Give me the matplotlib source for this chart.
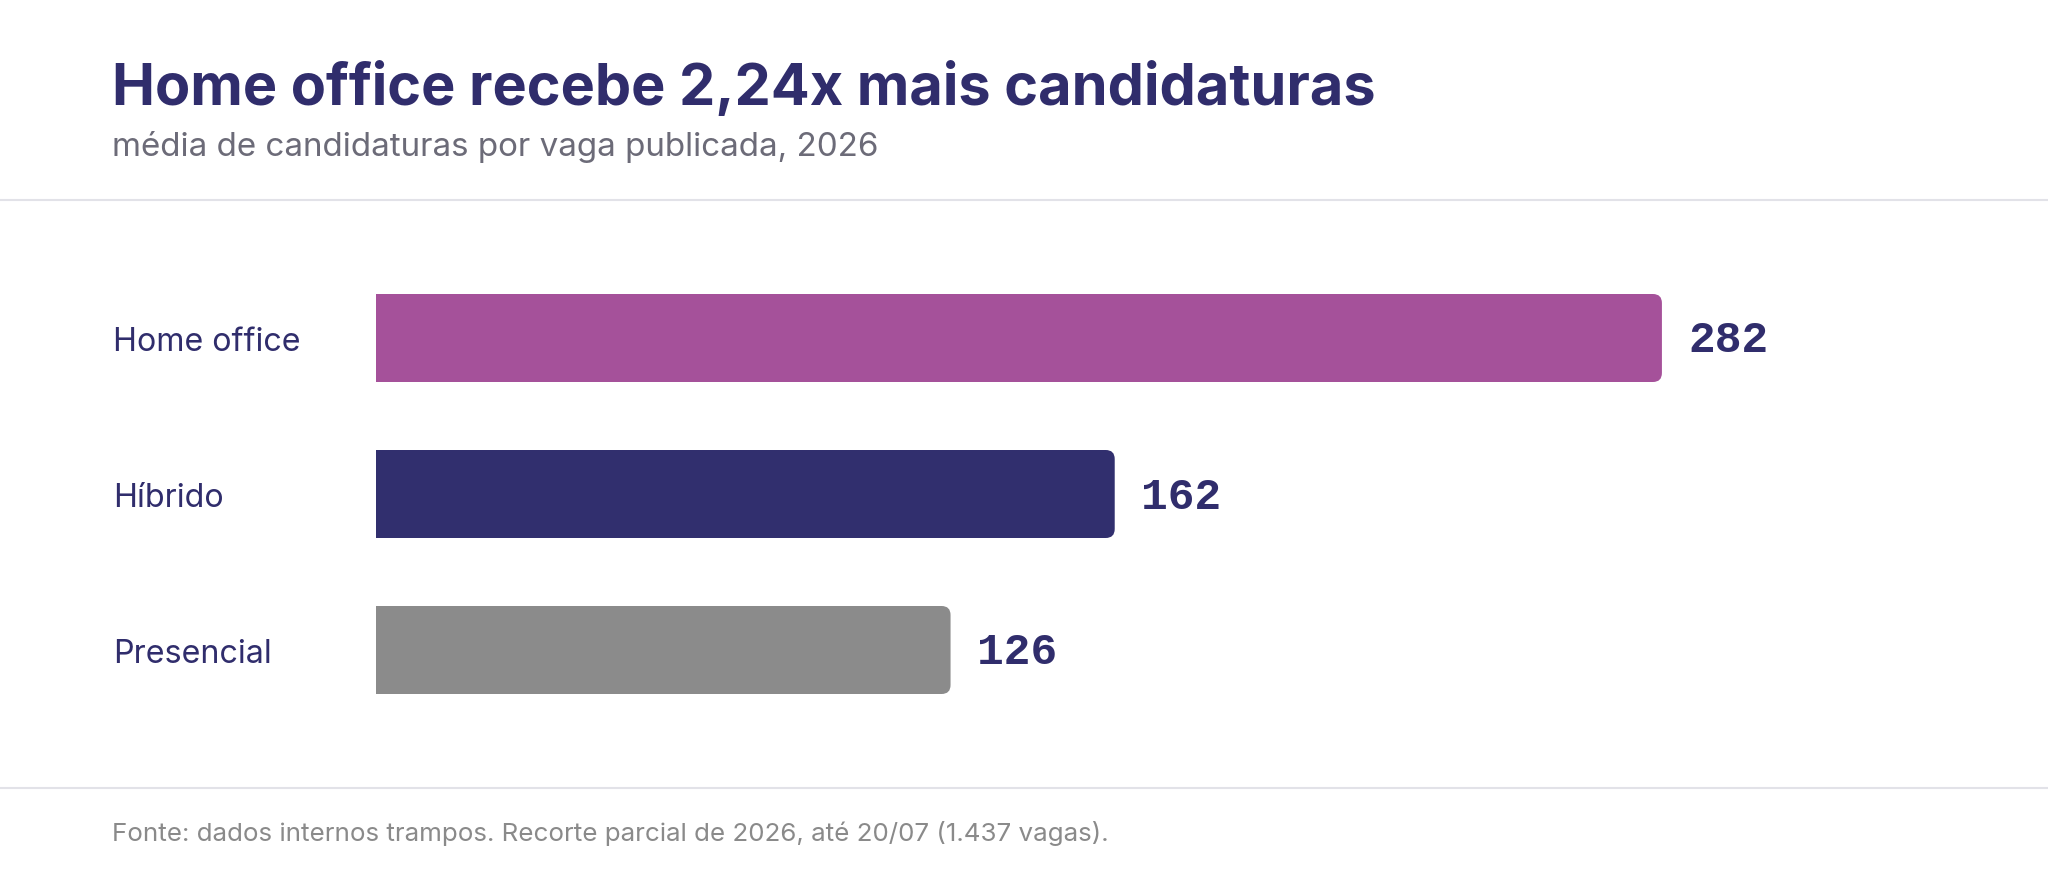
import matplotlib
matplotlib.use("Agg")
import matplotlib.pyplot as plt
from matplotlib.patches import FancyBboxPatch, Rectangle
from matplotlib.transforms import blended_transform_factory

# data
categories = ["Home office", "Híbrido", "Presencial"]
values = [282, 162, 126]
bar_colors = ["#a5519a", "#312f6e", "#8b8b8b"]

NAVY = "#302d6c"
W, H = 2048, 880

plt.rcParams["font.family"] = ["Inter", "DejaVu Sans"]

fig = plt.figure(figsize=(W / 100, H / 100), dpi=100)
fig.patch.set_facecolor("white")

# bar area: left edge at 376 px, 4.56 px per unit, rows 156 px apart
x_left, px_per_unit = 376, 4.56
xmax = 300
row_px = 156
top_px = 338 - row_px / 2
ax = fig.add_axes([x_left / W, (H - top_px - 3 * row_px) / H,
                   xmax * px_per_unit / W, 3 * row_px / H])
ax.set_xlim(0, xmax)
ax.set_ylim(2.5, -0.5)
ax.axis("off")

ypos = list(range(len(categories)))
bar_h = 88 / row_px
bars = ax.barh(ypos, values, height=bar_h, color=bar_colors)

# rounded right corners, square left side
r_px = 9
aspect = px_per_unit / row_px
for b, c in zip(bars, bar_colors):
    x0, y0 = b.get_x(), b.get_y()
    w, h = b.get_width(), b.get_height()
    b.set_visible(False)
    ax.add_patch(FancyBboxPatch((x0, y0), w, h,
                                boxstyle=f"round,pad=0,rounding_size={r_px / px_per_unit}",
                                mutation_aspect=aspect, fc=c, ec="none"))
    ax.add_patch(Rectangle((x0, y0), w / 2, h, fc=c, ec="none"))

for y, v in zip(ypos, values):
    ax.text(v + 26 / px_per_unit, y + 14.5 / row_px, str(v), va="baseline", ha="left",
            fontsize=32, fontweight="bold", color=NAVY,
            family=["Liberation Mono", "DejaVu Sans Mono"])

trans = blended_transform_factory(fig.transFigure, ax.transData)
for y, lab in zip(ypos, categories):
    ax.text(113 / W, y + 13 / row_px, lab, transform=trans, va="baseline", ha="left",
            fontsize=23.2, color=NAVY)

# titles
fig.text(112 / W, (H - 105) / H, "Home office recebe 2,24x mais candidaturas",
         fontsize=41.5, fontweight="bold", color=NAVY, va="baseline")
fig.text(112 / W, (H - 156) / H, "média de candidaturas por vaga publicada, 2026",
         fontsize=23.9, color="#6c6b78", va="baseline")

# separators
fig.add_artist(plt.Line2D([0, 1], [(H - 200) / H] * 2, color="#e2e2e8", lw=1.5))
fig.add_artist(plt.Line2D([0, 1], [(H - 788) / H] * 2, color="#e2e2e8", lw=1.5))

fig.text(112 / W, (H - 841) / H,
         "Fonte: dados internos trampos. Recorte parcial de 2026, até 20/07 (1.437 vagas).",
         fontsize=18.7, color="#8a8a8a", va="baseline")

fig.savefig("out.png", dpi=100, facecolor="white")
